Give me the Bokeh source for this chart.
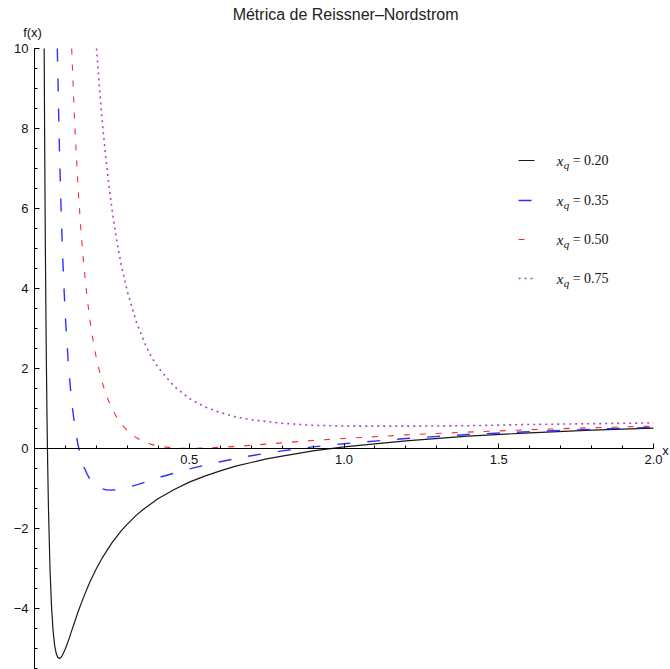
from bokeh.plotting import figure
from bokeh.models import Range1d, FixedTicker, Label, CustomJSTickFormatter
from bokeh.embed import file_html
from bokeh.resources import INLINE

# ---- data (curves enter at the top edge f = 10) ----
x_q020 = [0.0312, 0.033, 0.035, 0.0375, 0.040, 0.0425, 0.045, 0.050, 0.055, 0.060, 0.065,
          0.070, 0.075, 0.080, 0.085, 0.090, 0.095, 0.10, 0.11, 0.12, 0.13, 0.14, 0.15, 0.16,
          0.17, 0.18, 0.19, 0.20, 0.22, 0.25, 0.28, 0.30, 0.33, 0.35, 0.40, 0.45, 0.50, 0.55,
          0.60, 0.65, 0.70, 0.75, 0.80, 0.90, 1.00, 1.20, 1.40, 1.60, 1.80, 2.00]
f_q020 = [10.0, 7.43, 5.08, 2.78, 1.00, -0.38, -1.47, -3.00, -3.96, -4.56, -4.92,
          -5.12, -5.22, -5.25, -5.23, -5.17, -5.09, -5.00, -4.79, -4.56, -4.33, -4.10, -3.89, -3.69,
          -3.50, -3.32, -3.16, -3.00, -2.72, -2.36, -2.06, -1.89, -1.66, -1.53, -1.25, -1.03, -0.84, -0.69,
          -0.56, -0.44, -0.35, -0.26, -0.19, -0.06, 0.04, 0.19, 0.31, 0.39, 0.46, 0.51]

x_q035 = [0.0737, 0.080, 0.085, 0.090, 0.095, 0.10, 0.11, 0.12, 0.13, 0.14, 0.15, 0.16, 0.17,
          0.18, 0.19, 0.20, 0.21, 0.22, 0.23, 0.245, 0.26, 0.27, 0.30, 0.33, 0.35, 0.40, 0.45,
          0.50, 0.60, 0.70, 0.80, 0.90, 1.00, 1.20, 1.40, 1.60, 1.80, 2.00]
f_q035 = [10.0, 7.64, 6.19, 5.01, 4.05, 3.25, 2.03, 1.17, 0.56, 0.11, -0.22, -0.47, -0.64,
          -0.78, -0.87, -0.94, -0.98, -1.01, -1.03, -1.04, -1.03, -1.02, -0.97, -0.91, -0.86, -0.73, -0.62,
          -0.51, -0.33, -0.18, -0.06, 0.04, 0.12, 0.25, 0.35, 0.42, 0.48, 0.53]

x_q050 = [0.1201, 0.13, 0.14, 0.15, 0.16, 0.17, 0.18, 0.19, 0.20, 0.22, 0.235, 0.25, 0.265,
          0.28, 0.30, 0.325, 0.35, 0.375, 0.40, 0.45, 0.50, 0.55, 0.60, 0.65, 0.70, 0.80, 0.90,
          1.00, 1.20, 1.40, 1.60, 1.80, 2.00]
f_q050 = [10.0, 8.10, 6.61, 5.44, 4.52, 3.77, 3.16, 2.66, 2.25, 1.62, 1.27, 1.00, 0.79,
          0.62, 0.44, 0.29, 0.18, 0.11, 0.06, 0.01, 0.00, 0.01, 0.03, 0.05, 0.08, 0.14, 0.20,
          0.25, 0.34, 0.41, 0.47, 0.52, 0.56]

x_q075 = [0.2005, 0.21, 0.22, 0.23, 0.24, 0.25, 0.26, 0.27, 0.28, 0.30, 0.33, 0.36, 0.38,
          0.40, 0.45, 0.50, 0.55, 0.60, 0.65, 0.70, 0.80, 0.90, 1.00, 1.125, 1.25, 1.40, 1.60,
          1.80, 2.00]
f_q075 = [10.0, 8.99, 8.08, 7.29, 6.60, 6.00, 5.48, 5.01, 4.60, 3.92, 3.14, 2.56, 2.26,
          2.02, 1.56, 1.25, 1.04, 0.90, 0.79, 0.72, 0.63, 0.58, 0.56, 0.56, 0.56, 0.57, 0.60,
          0.62, 0.64]

legend_values = ["0.20", "0.35", "0.50", "0.75"]
x_ticks = [0.5, 1.0, 1.5, 2.0]
x_minor_ticks = [0.1, 0.2, 0.3, 0.4, 0.5, 0.6, 0.7, 0.8, 0.9, 1.0, 1.1, 1.2, 1.3, 1.4, 1.5,
                 1.6, 1.7, 1.8, 1.9, 2.0]
y_ticks = [-4, -2, 0, 2, 4, 6, 8, 10]
y_minor_ticks = [-5.5, -5, -4.5, -4, -3.5, -3, -2.5, -2, -1.5, -1, -0.5, 0, 0.5, 1, 1.5, 2,
                 2.5, 3, 3.5, 4, 4.5, 5, 5.5, 6, 6.5, 7, 7.5, 8, 8.5, 9, 9.5, 10]
title_text = "Métrica de Reissner–Nordstrom"

# ---- styles ----
styles = [
    dict(color="#1a1a1a", dash="solid", width=1.2),
    dict(color="#2f2fff", dash="13 17", width=1.4),
    dict(color="#ff2a2a", dash="6 10", width=1.1),
    dict(color="#a848c0", dash="2 4", width=1.6),
]
series = [(x_q020, f_q020), (x_q035, f_q035), (x_q050, f_q050), (x_q075, f_q075)]

# frame spans the whole canvas; axes cross at the origin
p = figure(width=670, height=669, output_backend="svg", toolbar_location=None,
           x_range=Range1d(-0.1099, 2.0549), y_range=Range1d(-5.525, 11.2),
           min_border_left=0, min_border_right=0, min_border_top=0, min_border_bottom=0)
p.outline_line_color = None
p.grid.visible = False
p.background_fill_color = "white"
p.border_fill_color = "white"

for (xs, ys), st in zip(series, styles):
    p.line(xs, ys, line_color=st["color"], line_dash=st["dash"], line_width=st["width"],
           line_join="round")

for ax in (p.xaxis[0], p.yaxis[0]):
    ax.fixed_location = 0
    ax.axis_line_color = "black"
    ax.axis_line_width = 1
    ax.major_tick_in = 5
    ax.major_tick_out = 0
    ax.minor_tick_in = 3
    ax.minor_tick_out = 0
    ax.major_tick_line_color = "black"
    ax.minor_tick_line_color = "black"
    ax.major_label_text_font = "Liberation Sans"
    ax.major_label_text_font_size = "13px"
    ax.major_label_text_color = "#111111"
    ax.major_label_standoff = 6

p.xaxis.bounds = (0, 2.0)
p.yaxis.bounds = (-5.6, 10)
p.xaxis.ticker = FixedTicker(ticks=x_ticks, minor_ticks=x_minor_ticks)
p.yaxis.ticker = FixedTicker(ticks=y_ticks, minor_ticks=y_minor_ticks)
p.xaxis.formatter = CustomJSTickFormatter(code="return tick.toFixed(1);")
p.yaxis.formatter = CustomJSTickFormatter(
    code="return tick < 0 ? '\\u2212' + Math.abs(tick) : String(tick);")

# title and axis labels
p.add_layout(Label(x=1.005, y=10.85, text=title_text, text_align="center",
                   text_baseline="middle", text_font="Liberation Sans",
                   text_font_size="16px", text_color="#222222"))
p.add_layout(Label(x=0, y=10, text="f(x)", x_offset=-2, y_offset=16,
                   text_align="center", text_baseline="middle",
                   text_font="Liberation Sans", text_font_size="13px", text_color="#111111"))
p.add_layout(Label(x=2.0, y=0, text="x", x_offset=12, y_offset=-2,
                   text_align="center", text_baseline="middle",
                   text_font="Liberation Sans", text_font_size="13px", text_color="#111111"))

# legend (manual, to allow the subscript)
leg_x0, leg_x1, leg_tx = 1.564, 1.6155, 1.687
leg_rows = [7.2, 6.2, 5.225, 4.25]
for val, row, st in zip(legend_values, leg_rows, styles):
    p.line([leg_x0, leg_x1], [row, row], line_color=st["color"], line_dash=st["dash"],
           line_width=st["width"])
    p.add_layout(Label(x=leg_tx, y=row, text="x", text_baseline="middle",
                       text_font="Liberation Serif", text_font_style="italic",
                       text_font_size="15px", text_color="#111111"))
    p.add_layout(Label(x=leg_tx, y=row, text="q", x_offset=7, y_offset=-4,
                       text_baseline="middle",
                       text_font="Liberation Serif", text_font_style="italic",
                       text_font_size="11px", text_color="#111111"))
    p.add_layout(Label(x=leg_tx, y=row, text="= " + val, x_offset=16,
                       text_baseline="middle",
                       text_font="Liberation Serif", text_font_size="14px",
                       text_color="#111111"))

open("out.html", "w").write(file_html(p, INLINE))
